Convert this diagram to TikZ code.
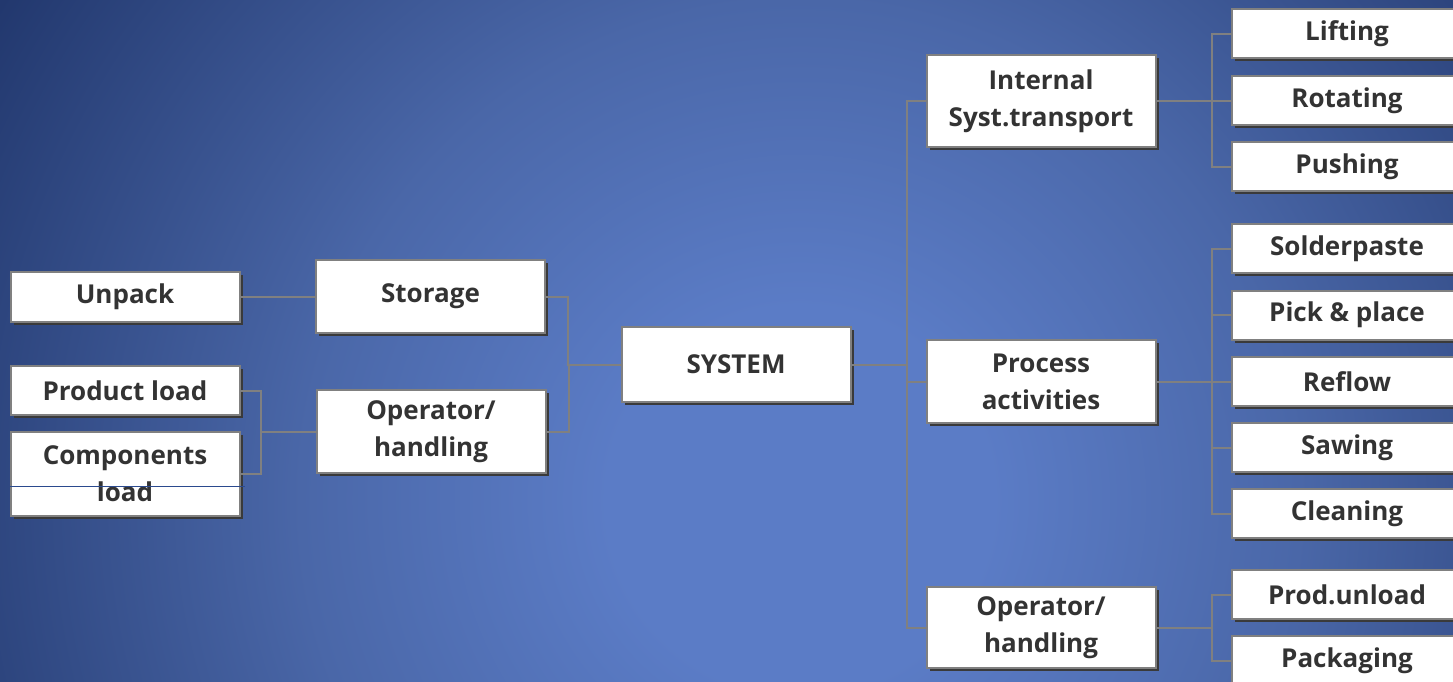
\documentclass[tikz,border=0pt]{standalone}
\usepackage{fontspec}
\setmainfont{Open Sans}
\usetikzlibrary{shadows}
\definecolor{txt}{HTML}{333333}
\definecolor{bordergray}{HTML}{808080}
\definecolor{linegray}{HTML}{808080}
\definecolor{shadowgray}{HTML}{3A3A3A}
\definecolor{bgA}{HTML}{5B7CC6}
\definecolor{bgB}{HTML}{4A67A8}
\definecolor{bgC}{HTML}{22386E}
\definecolor{strike}{HTML}{2B4A8E}
\pgfdeclareradialshading{bgshade}{\pgfpoint{0bp}{0bp}}{color(0bp)=(bgA); color(5bp)=(bgA); color(13bp)=(bgB); color(24.5bp)=(bgC); color(50bp)=(bgC)}
\begin{document}
\begin{tikzpicture}[x=1pt,y=-1pt,
  box/.style={draw=bordergray, line width=2pt, fill=white, text=txt,
    font=\bfseries\fontsize{26}{37}\selectfont, align=center, inner sep=0pt,
    minimum width=229pt,
    drop shadow={shadow xshift=3pt, shadow yshift=-3pt, fill=shadowgray, opacity=1}},
  conn/.style={draw=linegray, line width=2pt}]
\useasboundingbox (0,0) rectangle (1453,681);
\clip (0,0) rectangle (1453,681);
\shade[shading=bgshade] (-160,-460) rectangle (1760,1460);

% left
\node[box, minimum height=50pt] (unpack) at (125,297) {Unpack};
\node[box, minimum height=49pt] (prodload) at (125,390.5) {Product load};
\node[box, minimum height=84pt] (compload) at (125,474) {Components\\load};
\node[box, minimum height=73pt] (storage) at (430.5,296.5) {Storage};
\node[box, minimum height=83pt] (opleft) at (431,431.5) {Operator/\\handling};
% center
\node[box, minimum height=75pt] (system) at (736,364.5) {SYSTEM};
% middle right
\node[box, minimum height=92pt] (internal) at (1041,101) {Internal\\Syst.transport};
\node[box, minimum height=83pt] (process) at (1041,381.5) {Process\\activities};
\node[box, minimum height=81pt] (opright) at (1041,627.5) {Operator/\\handling};
% right column
\node[box, minimum width=230pt, minimum height=49pt] (lifting) at (1347,33.5) {Lifting};
\node[box, minimum width=230pt, minimum height=49pt] (rotating) at (1347,100.5) {Rotating};
\node[box, minimum width=230pt, minimum height=49pt] (pushing) at (1347,166.5) {Pushing};
\node[box, minimum width=230pt, minimum height=49pt] (solder) at (1347,248.5) {Solderpaste};
\node[box, minimum width=230pt, minimum height=49pt] (pick) at (1347,315) {Pick \& place};
\node[box, minimum width=230pt, minimum height=49pt] (reflow) at (1347,381.5) {Reflow};
\node[box, minimum width=230pt, minimum height=49pt] (sawing) at (1347,447.5) {Sawing};
\node[box, minimum width=230pt, minimum height=49pt] (cleaning) at (1347,513.5) {Cleaning};
\node[box, minimum width=230pt, minimum height=49pt] (produnload) at (1347,594.5) {Prod.unload};
\node[box, minimum width=230pt, minimum height=49pt] (packaging) at (1347,660.5) {Packaging};

% stray line across Components load
\draw[strike, line width=1pt] ([yshift=-12pt]compload.west) -- ([yshift=-12pt,xshift=4pt]compload.east);

% connectors
\draw[conn] (unpack.east) -- (storage.west |- unpack.east);
\draw[conn] (prodload.east) -- ++(20,0) |- (opleft.west);
\draw[conn] (compload.east) -- ++(20,0) |- (opleft.west);
\draw[conn] (storage.east) -- ++(22,0) |- (system.west);
\draw[conn] (opleft.east) -- ++(22,0) |- (system.west);
\draw[conn] (system.east) -- ++(55,0) |- (internal.west);
\draw[conn] (system.east) -- ++(55,0) |- (process.west);
\draw[conn] (system.east) -- ++(55,0) |- (opright.west);
\draw[conn] (internal.east) -- ++(55,0) |- (lifting.west);
\draw[conn] (internal.east) -- ++(55,0) |- (rotating.west);
\draw[conn] (internal.east) -- ++(55,0) |- (pushing.west);
\draw[conn] (process.east) -- ++(55,0) |- (solder.west);
\draw[conn] (process.east) -- ++(55,0) |- (pick.west);
\draw[conn] (process.east) -- ++(55,0) |- (reflow.west);
\draw[conn] (process.east) -- ++(55,0) |- (sawing.west);
\draw[conn] (process.east) -- ++(55,0) |- (cleaning.west);
\draw[conn] (opright.east) -- ++(55,0) |- (produnload.west);
\draw[conn] (opright.east) -- ++(55,0) |- (packaging.west);
\end{tikzpicture}
\end{document}
